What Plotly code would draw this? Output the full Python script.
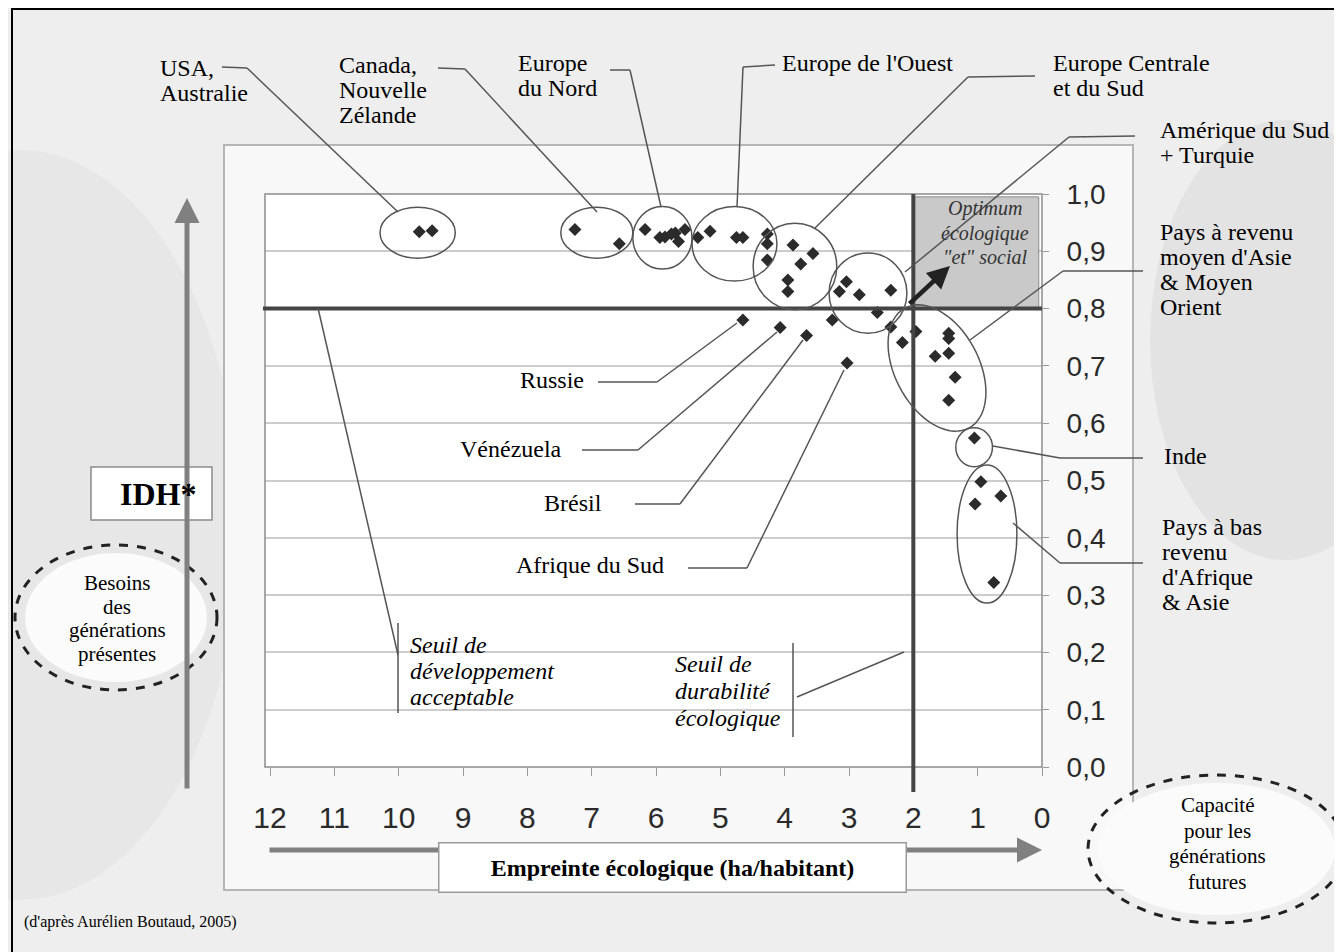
import numpy as np
import plotly.graph_objects as go

# ---------------- data (empreinte écologique ha/hab, IDH) ----------------
usa_x = [9.68, 9.48]
usa_y = [0.934, 0.936]
canada_x = [7.26, 6.57]
canada_y = [0.938, 0.913]
nord_x = [6.17, 5.94, 5.86, 5.70, 5.65, 5.55, 5.76]
nord_y = [0.938, 0.924, 0.925, 0.932, 0.917, 0.938, 0.930]
ouest_x = [5.35, 5.16, 4.75, 4.65, 4.27, 4.27, 4.27]
ouest_y = [0.924, 0.935, 0.924, 0.924, 0.930, 0.913, 0.885]
centre_x = [3.87, 3.56, 3.75, 3.95, 3.95]
centre_y = [0.911, 0.896, 0.878, 0.850, 0.830]
amsud_x = [3.04, 3.15, 2.84, 2.35, 2.56, 2.35]
amsud_y = [0.847, 0.830, 0.824, 0.832, 0.793, 0.768]
isoles_names = ["Russie", "Vénézuela", "Brésil", "", "Afrique du Sud"]
isoles_x = [4.65, 4.07, 3.66, 3.26, 3.03]
isoles_y = [0.780, 0.767, 0.753, 0.780, 0.705]
asie_x = [1.96, 2.17, 1.45, 1.45, 1.66, 1.45, 1.35, 1.45]
asie_y = [0.760, 0.741, 0.757, 0.748, 0.717, 0.722, 0.680, 0.640]
inde_x = [1.05]
inde_y = [0.574]
bas_x = [0.95, 0.64, 1.04, 0.75]
bas_y = [0.498, 0.473, 0.459, 0.322]

x_ticks = list(range(0, 13))
y_ticks = [round(v * 0.1, 1) for v in range(0, 11)]
y_ticklabels = [f"{v:.1f}".replace(".", ",") for v in y_ticks]
seuil_idh = 0.8
seuil_empreinte = 2

# ---------------- layout geometry (reference pixels; page has 8px body margin) ----------------
OFF = 8
WID, HEI = 1342 - OFF, 952 - OFF
L, T, R, B = 265, 194, 1042, 767
PW, PH = R - L, B - T


def X(px):
    return (px - L) / PW


def Y(py):
    return (B - py) / PH


SERIF = "Liberation Serif"
SANS = "Liberation Sans"

fig = go.Figure()
groups = [(usa_x, usa_y), (canada_x, canada_y), (nord_x, nord_y), (ouest_x, ouest_y),
          (centre_x, centre_y), (amsud_x, amsud_y), (isoles_x, isoles_y),
          (asie_x, asie_y), (inde_x, inde_y), (bas_x, bas_y)]
for gx, gy in groups:
    fig.add_trace(go.Scatter(x=gx, y=gy, mode="markers", showlegend=False,
                             marker=dict(symbol="diamond", size=10, color="#2b2b2b",
                                         line=dict(width=0)),
                             hoverinfo="x+y"))

shapes = []
annotations = []

# background
shapes.append(dict(type="circle", xref="paper", yref="paper", layer="below",
                   x0=X(1150), x1=X(1420), y0=Y(560), y1=Y(120),
                   fillcolor="#dedede", line=dict(width=0), opacity=0.7))
shapes.append(dict(type="circle", xref="paper", yref="paper", layer="below",
                   x0=X(-200), x1=X(240), y0=Y(900), y1=Y(150),
                   fillcolor="#e2e2e2", line=dict(width=0), opacity=0.6))
# outer chart area
shapes.append(dict(type="rect", xref="paper", yref="paper", layer="below",
                   x0=X(224), x1=X(1133), y0=Y(890), y1=Y(145),
                   fillcolor="#f8f8f8", line=dict(color="#b5b5b5", width=2)))
# white plot area
shapes.append(dict(type="rect", xref="paper", yref="paper", layer="below",
                   x0=0, x1=1, y0=0, y1=1, fillcolor="#ffffff", line=dict(width=0)))
# optimum box
shapes.append(dict(type="rect", xref="x", yref="y", layer="between",
                   x0=seuil_empreinte, x1=0.05, y0=seuil_idh, y1=0.995,
                   fillcolor="#c9c9c9", line=dict(color="#8a8a8a", width=1)))
# frame
shapes.append(dict(type="rect", xref="paper", yref="paper", layer="above",
                   x0=0, x1=1, y0=0, y1=1, line=dict(color="#8c8c8c", width=1.5)))
# thresholds
shapes.append(dict(type="line", xref="paper", yref="y", x0=X(263), x1=1, y0=seuil_idh, y1=seuil_idh,
                   line=dict(color="#444444", width=4)))
shapes.append(dict(type="line", xref="x", yref="paper", x0=seuil_empreinte, x1=seuil_empreinte,
                   y0=Y(792), y1=1, line=dict(color="#444444", width=4)))

# cluster ellipses (data coords)
ell = [(10.29, 9.12, 0.888, 0.977), (7.48, 6.36, 0.888, 0.977), (6.36, 5.44, 0.869, 0.978),
       (5.44, 4.12, 0.848, 0.978), (4.49, 3.19, 0.798, 0.949), (3.31, 2.10, 0.757, 0.897),
       (1.34, 0.77, 0.524, 0.592), (1.32, 0.39, 0.286, 0.527)]
for x0, x1, y0, y1 in ell:
    shapes.append(dict(type="circle", xref="x", yref="y", x0=x0, x1=x1, y0=y0, y1=y1,
                       line=dict(color="#555555", width=1.5)))


def rot_ellipse(cx, cy, a, b, deg):
    th = np.radians(deg)
    t = np.linspace(0, 2 * np.pi, 72)
    pxs = cx + a * np.cos(t) * np.cos(th) - b * np.sin(t) * np.sin(th)
    pys = cy + a * np.cos(t) * np.sin(th) + b * np.sin(t) * np.cos(th)
    pts = [f"{X(px):.5f},{Y(py):.5f}" for px, py in zip(pxs, pys)]
    return "M " + " L ".join(pts) + " Z"


shapes.append(dict(type="path", xref="paper", yref="paper", path=rot_ellipse(937, 368, 68, 42, 62),
                   line=dict(color="#555555", width=1.5)))


def poly(pts, color="#555555", width=1.5):
    for (a, b), (c, d) in zip(pts[:-1], pts[1:]):
        shapes.append(dict(type="line", xref="paper", yref="paper",
                           x0=X(a), y0=Y(b), x1=X(c), y1=Y(d),
                           line=dict(color=color, width=width)))


# leader lines
poly([(222, 67), (247, 68), (398, 212)])
poly([(438, 68), (465, 69), (597, 212)])
poly([(610, 70), (630, 70), (661, 207)])
poly([(775, 65), (743, 67), (737, 207)])
poly([(1035, 76), (968, 77), (815, 228)])
poly([(1135, 136), (1069, 137), (905, 272)])
poly([(1143, 271), (1063, 271), (970, 340)])
poly([(1143, 458), (1060, 458), (993, 446)])
poly([(1143, 563), (1060, 563), (1013, 523)])
poly([(598, 382), (657, 382), (737, 323)])
poly([(582, 450), (638, 450), (777, 332)])
poly([(635, 504), (680, 504), (803, 340)])
poly([(688, 568), (747, 568), (844, 370)])
poly([(318, 308), (398, 655)])
poly([(398, 623), (398, 713)])
poly([(793, 643), (793, 737)])
poly([(797, 697), (904, 652)])

# dashed ellipses + glow
for (x0, x1, y0, y1) in [(15, 217, 545, 690), (1088, 1345, 775, 923)]:
    shapes.append(dict(type="circle", xref="paper", yref="paper", layer="below",
                       x0=X(x0 + 10), x1=X(x1 - 10), y0=Y(y1 - 8), y1=Y(y0 + 8),
                       fillcolor="#fbfbfb", line=dict(width=0)))
    shapes.append(dict(type="circle", xref="paper", yref="paper",
                       x0=X(x0), x1=X(x1), y0=Y(y1), y1=Y(y0),
                       line=dict(color="#222222", width=3, dash="dash")))

# IDH box
shapes.append(dict(type="rect", xref="paper", yref="paper", x0=X(91), x1=X(212), y0=Y(520), y1=Y(467),
                   fillcolor="#ffffff", line=dict(color="#8a8a8a", width=1.5)))
# page frame (left side)
shapes.append(dict(type="line", xref="paper", yref="paper", x0=X(12), x1=X(12), y0=Y(960), y1=Y(8),
                   line=dict(color="#000000", width=2)))
shapes.append(dict(type="line", xref="paper", yref="paper", x0=X(12), x1=X(1350), y0=Y(9), y1=Y(9),
                   line=dict(color="#000000", width=2)))

# axis arrows
annotations.append(dict(x=X(187), y=Y(198), xref="paper", yref="paper", text="", showarrow=True,
                        ax=0, ay=592, arrowhead=2, arrowsize=1, arrowwidth=5, arrowcolor="#808080"))
annotations.append(dict(x=X(1042), y=Y(850), xref="paper", yref="paper", text="", showarrow=True,
                        ax=-774, ay=0, arrowhead=2, arrowsize=1, arrowwidth=5, arrowcolor="#808080"))
annotations.append(dict(x=X(907), y=Y(867), xref="paper", yref="paper", showarrow=False,
                        text="<b>Empreinte écologique (ha/habitant)</b>", bgcolor="#ffffff",
                        bordercolor="#9a9a9a", borderwidth=1.5, borderpad=11, xanchor="right",
                        yanchor="middle", width=444, align="center",
                        font=dict(family=SERIF, size=24, color="#000000")))
# optimum arrow
annotations.append(dict(x=X(950), y=Y(266), xref="paper", yref="paper", text="", showarrow=True,
                        ax=-42, ay=39, arrowhead=2, arrowsize=1, arrowwidth=4.5, arrowcolor="#222222"))


def txt(lines, px, py, size=24, anchor="left", spacing=25, italic=False, bold=False, color="#000000"):
    for i, line in enumerate(lines):
        annotations.append(dict(x=X(px), y=Y(py + i * spacing), xref="paper", yref="paper",
                                text=line, showarrow=False, xanchor=anchor, yanchor="middle",
                                font=dict(family=SERIF, size=size, color=color,
                                          style="italic" if italic else "normal",
                                          weight="bold" if bold else "normal")))


txt(["USA,", "Australie"], 158, 68)
txt(["Canada,", "Nouvelle", "Zélande"], 337, 65)
txt(["Europe", "du Nord"], 516, 63)
txt(["Europe de l'Ouest"], 780, 63)
txt(["Europe Centrale", "et du Sud"], 1051, 63)
txt(["Amérique du Sud", "+ Turquie"], 1158, 130)
txt(["Pays à revenu", "moyen d'Asie", "& Moyen", "Orient"], 1158, 232)
txt(["Inde"], 1162, 456)
txt(["Pays à bas", "revenu", "d'Afrique", "& Asie"], 1160, 527)
txt(["Russie"], 586, 380, anchor="right")
txt(["Vénézuela"], 564, 449, anchor="right")
txt(["Brésil"], 604, 503, anchor="right")
txt(["Afrique du Sud"], 666, 565, anchor="right")
txt(["Seuil de", "développement", "acceptable"], 408, 645, italic=True, spacing=26)
txt(["Seuil de", "durabilité", "écologique"], 673, 664, italic=True, spacing=27)
txt(["Optimum", "écologique", "\"et\" social"], 985, 209, size=20, anchor="center", italic=True,
    spacing=24, color="#333333")
txt(["<b>IDH*</b>"], 158, 494, size=32, anchor="center")
txt(["Besoins", "des", "générations", "présentes"], 117, 583, size=21, anchor="center", spacing=23.5)
txt(["Capacité", "pour les", "générations", "futures"], 1217, 805, size=21, anchor="center", spacing=25.5)
txt(["(d'après Aurélien Boutaud, 2005)"], 22, 922, size=16)

fig.update_layout(
    width=WID, height=HEI,
    margin=dict(l=L - OFF, r=WID - (R - OFF), t=T - OFF, b=HEI - (B - OFF), pad=0),
    paper_bgcolor="#eeeeee", plot_bgcolor="rgba(0,0,0,0)",
    shapes=shapes, annotations=annotations, showlegend=False,
    xaxis=dict(range=[12 + 5 / 64.33, 0], tickmode="array", tickvals=x_ticks,
               ticktext=[str(v) for v in x_ticks], showgrid=False, zeroline=False,
               ticks="outside", ticklen=8, tickcolor="#999999", ticklabelstandoff=16,
               showline=False, tickfont=dict(family=SANS, size=30, color="#2a2a2a")),
    yaxis=dict(range=[0, 1.0], side="right", tickmode="array", tickvals=y_ticks,
               ticktext=y_ticklabels, showgrid=True, gridcolor="#cccccc", gridwidth=1.5,
               zeroline=False, ticks="outside", ticklen=6, tickcolor="#999999",
               ticklabelstandoff=12, showline=False,
               tickfont=dict(family=SANS, size=28, color="#2a2a2a")),
)

fig.write_html("out.html")
